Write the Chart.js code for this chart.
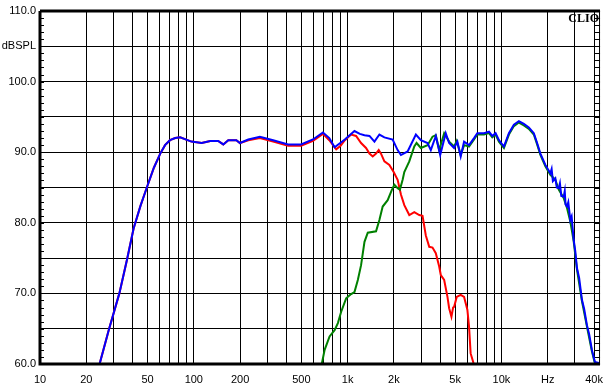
<!DOCTYPE html>
<html>
<head>
<meta charset="utf-8">
<script src="https://cdn.jsdelivr.net/npm/chart.js@4"></script>
<style>
  html, body { margin: 0; padding: 0; background: #fff; }
  canvas { display: block; }
</style>
</head>
<body>
<canvas id="clio" width="612" height="389"></canvas>
<script>
// axis ticks
const gridHz = [10, 20, 30, 40, 50, 60, 70, 80, 90,
    100, 200, 300, 400, 500, 600, 700, 800, 900,
    1000, 2000, 3000, 4000, 5000, 6000, 7000, 8000, 9000,
    10000, 20000, 30000, 40000];
const xLabelHz = [10, 20, 50, 100, 200, 500, 1000, 2000, 5000, 10000, 20000, 40000];
const xLabelText = ['10', '20', '50', '100', '200', '500', '1k', '2k', '5k', '10k', 'Hz', '40k'];
const yLabelDb = [110, 105, 100, 90, 80, 70, 60];
const yLabelText = ['110.0', 'dBSPL', '100.0', '90.0', '80.0', '70.0', '60.0'];

// system response (blue)
const blueHz = [24.4, 28.0, 32.8, 36.8, 40.6, 45, 49.5, 55, 60.5, 65, 70, 75.7, 81.5, 96.5,
    112.5, 128, 144, 155.5, 167.5, 189, 199.5, 226, 269, 328, 410, 498, 595, 691, 760, 823,
    959, 1108, 1200, 1287, 1387, 1494, 1609, 1734, 1962, 2114, 2221, 2455, 2778, 2993,
    3307, 3474, 3743, 3997, 4344, 4571, 4924, 5172, 5434, 5716, 6157, 6635, 6970, 7703,
    8299, 8718, 9158, 9634, 10380, 11183, 12050, 12983, 13986, 15073, 16238, 17060,
    17920, 19300, 20800, 21200, 21600, 22410, 22900, 23580, 24000, 24500, 25400, 25800,
    26100, 26690, 27200, 28030, 28600, 29480, 30200, 30970, 32000, 33370, 34500, 35960,
    37200, 38730, 40510, 43640];
const blueDb = [60.0, 64.8, 70.0, 74.8, 79.2, 82.4, 85.0, 87.8, 89.8, 91.0, 91.7, 92.0, 92.1, 91.5,
    91.3, 91.6, 91.6, 91.1, 91.7, 91.7, 91.3, 91.8, 92.2, 91.7, 91.1, 91.1, 91.8, 92.8, 92.0, 90.7,
    91.8, 93.0, 92.6, 92.4, 92.3, 91.5, 92.5, 92.1, 91.8, 90.3, 89.6, 90.1, 92.5, 91.7,
    91.3, 90.3, 92.3, 89.6, 92.7, 91.3, 90.6, 91.5, 89.4, 91.5, 91.0, 92.0, 92.7, 92.7,
    92.9, 92.3, 92.7, 91.7, 90.8, 92.7, 93.9, 94.4, 94.0, 93.5, 92.7, 91.3,
    89.8, 88.2, 87.0, 87.6, 85.9, 86.3, 85.0, 84.9, 85.6, 83.8, 83.7, 84.5,
    82.6, 82.3, 82.9, 80.4, 80.9, 77.6, 76.0, 73.6, 72.2, 69.1, 67.8, 65.5,
    64.2, 62.0, 60.3, 60.1];

// woofer (red)
const redHz = [24.4, 28.0, 32.8, 36.8, 40.6, 45, 49.5, 55, 60.5, 65, 70, 75.7, 81.5, 96.5,
    112.5, 128, 144, 155.5, 167.5, 189, 199.5, 226, 269, 328, 410, 498, 595, 691, 760, 843,
    900, 959, 1054, 1135, 1223, 1317, 1387, 1456, 1530, 1593, 1648, 1734, 1868, 1992, 2114,
    2221, 2336, 2517, 2713, 2922, 3069, 3224, 3393, 3563, 3743, 3938, 4034, 4243, 4457,
    4571, 4731, 4850, 4924, 5119, 5434, 5716, 6004, 6157, 6306, 6565, 6700];
const redDb = [60.0, 64.8, 70.0, 74.8, 79.2, 82.4, 85.0, 87.8, 89.8, 91.0, 91.7, 92.0, 92.1, 91.5,
    91.3, 91.6, 91.6, 91.1, 91.7, 91.7, 91.3, 91.7, 92.0, 91.5, 90.9, 90.9, 91.6, 92.6, 91.7, 90.4,
    90.9, 91.7, 92.5, 92.3, 91.3, 90.6, 89.8, 89.4, 89.8, 90.3, 89.8, 88.7, 88.2, 87.2, 86.1,
    84.0, 82.5, 81.1, 81.5, 81.1, 81.0, 78.2, 76.6, 76.5, 75.7, 73.8, 72.6, 71.9, 69.5,
    67.9, 66.7, 68.0, 68.1, 69.5, 69.8, 69.5, 67.7, 65.3, 61.5, 60.2, 59.0];

// tweeter (green)
const greenHz = [650, 680.6, 708.8, 763.3, 822.8, 864.3, 907.9, 978, 1054, 1108, 1165, 1223,
    1287, 1352, 1530, 1609, 1690, 1821, 1933, 2013, 2114, 2188, 2278, 2336, 2517, 2713,
    2807, 2993, 3307, 3563, 3743, 3938, 4243, 4571, 4924, 5119, 5434, 5716, 6157, 6635,
    6970, 7703, 8299, 8718, 9158, 9634, 10380, 11183, 12050, 12983, 13986, 15073, 16238,
    17060, 17920, 19300, 20800, 22410, 23580, 25400, 26690, 28030, 29480, 30970, 33370,
    35960, 38730, 40510, 43640];
const greenDb = [58.0, 60.1, 62.0, 63.9, 64.8, 65.8, 67.4, 69.3, 69.9, 70.2, 71.9, 74.0,
    77.3, 78.6, 78.8, 80.4, 82.3, 83.2, 84.6, 85.4, 84.9, 84.7, 86.1, 87.2, 88.7, 90.8,
    91.3, 90.6, 91.0, 92.2, 92.4, 90.3, 92.7, 91.5, 90.8, 91.6, 89.6, 91.0, 90.8, 91.8,
    92.5, 92.5, 92.7, 92.1, 92.5, 91.5, 90.6, 92.5, 93.7, 94.2, 93.8, 93.3, 92.5,
    91.1, 89.6, 88.0, 86.8, 86.1, 84.7, 83.5, 82.1, 80.2, 77.4, 73.4, 68.9,
    65.3, 61.8, 60.1, 60.0];

const toPoints = (hz, db) => hz.map((f, i) => ({ x: f, y: db[i] }));

const curve = (data, color) => ({
    data: data,
    showLine: true,
    borderColor: color,
    backgroundColor: color,
    borderWidth: 2,
    pointRadius: 0,
    tension: 0,
    fill: false
});

// white page, thick frame, minor dB ticks and the CLIO mark
const framePlugin = {
    id: 'frame',
    beforeDraw(chart) {
        const ctx = chart.ctx;
        ctx.save();
        ctx.fillStyle = '#fff';
        ctx.fillRect(0, 0, chart.width, chart.height);
        ctx.restore();
    },
    afterDraw(chart) {
        const { ctx, chartArea: a, scales } = chart;
        ctx.save();
        ctx.strokeStyle = '#000';
        ctx.lineWidth = 3;
        ctx.beginPath();
        ctx.moveTo(a.left, a.top);
        ctx.lineTo(a.right, a.top);
        ctx.moveTo(a.left, a.top);
        ctx.lineTo(a.left, a.bottom);
        ctx.lineTo(a.right, a.bottom);
        ctx.stroke();
        ctx.lineWidth = 1;
        ctx.beginPath();
        ctx.moveTo(a.right - 0.5, a.top);
        ctx.lineTo(a.right - 0.5, a.bottom);
        for (let d = 61; d < 110; d++) {
            const y = Math.round(scales.y.getPixelForValue(d)) + 0.5;
            ctx.moveTo(a.left, y);
            ctx.lineTo(a.left + 4, y);
            ctx.moveTo(a.right - 5, y);
            ctx.lineTo(a.right, y);
        }
        ctx.stroke();
        ctx.fillStyle = '#000';
        ctx.font = 'bold 12px "Liberation Serif", serif';
        ctx.textAlign = 'right';
        ctx.textBaseline = 'top';
        ctx.fillText('CLIO', a.right - 1, a.top + 2);
        ctx.restore();
    }
};

new Chart(document.getElementById('clio'), {
    type: 'scatter',
    data: {
        datasets: [
            curve(toPoints(blueHz, blueDb), '#0000ff'),
            curve(toPoints(greenHz, greenDb), '#008000'),
            curve(toPoints(redHz, redDb), '#ff0000')
        ]
    },
    options: {
        responsive: false,
        animation: false,
        layout: { padding: { top: 11, right: 8, left: 0, bottom: 0 } },
        plugins: {
            legend: { display: false },
            tooltip: { enabled: false }
        },
        scales: {
            x: {
                type: 'logarithmic',
                min: 10,
                max: 43750,
                afterBuildTicks: (scale) => {
                    scale.ticks = gridHz.map(v => ({ value: v }));
                },
                afterFit: (scale) => { scale.height = 25; },
                grid: { color: '#000', lineWidth: 1, drawTicks: false },
                border: { display: false },
                ticks: {
                    autoSkip: false,
                    maxRotation: 0,
                    padding: 9,
                    color: '#000',
                    font: { family: '"Liberation Sans", Arial, sans-serif', size: 11 },
                    callback: (v) => {
                        const i = xLabelHz.indexOf(v);
                        return i >= 0 ? xLabelText[i] : '';
                    }
                }
            },
            y: {
                min: 60,
                max: 110,
                afterFit: (scale) => { scale.width = 40; },
                grid: { color: '#000', lineWidth: 1, drawTicks: false },
                border: { display: false },
                ticks: {
                    stepSize: 5,
                    padding: 4,
                    color: '#000',
                    font: { family: '"Liberation Sans", Arial, sans-serif', size: 11 },
                    callback: (v) => {
                        const i = yLabelDb.indexOf(v);
                        return i >= 0 ? yLabelText[i] : '';
                    }
                }
            }
        }
    },
    plugins: [framePlugin]
});
</script>
</body>
</html>
